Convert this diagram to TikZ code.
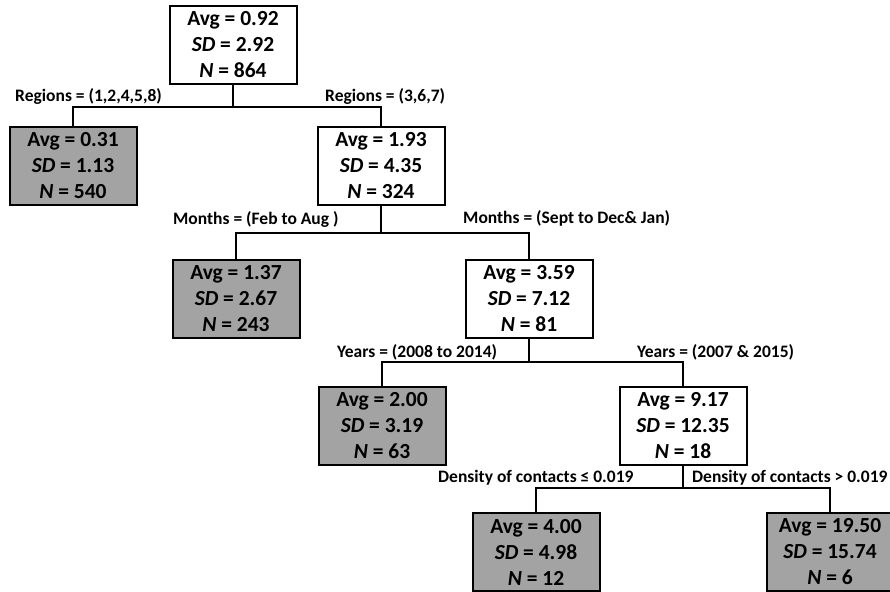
\documentclass[tikz,border=0pt]{standalone}
\usepackage{fontspec}
\setmainfont{Carlito}
\begin{document}
\begin{tikzpicture}[x=1pt,y=-1pt,
  box/.style={draw=black, line width=2pt, minimum width=127pt, minimum height=78pt,
    inner sep=0pt, align=center, font=\fontsize{21.5}{26}\selectfont\bfseries},
  leaf/.style={box, fill=gray!72},
  inner/.style={box, fill=white},
  lab/.style={anchor=west, inner sep=0pt, font=\fontsize{17.5}{20}\selectfont\bfseries},
  conn/.style={draw=black, line width=2pt}]
\useasboundingbox (0,0) rectangle (890,591);
\fill[white] (0,0) rectangle (890,591);
% nodes
\node[inner] (root) at (233,45) {Avg = 0.92\\\textit{SD} = 2.92\\\textit{N} = 864};
\node[leaf]  (a)    at (73,166) {Avg = 0.31\\\textit{SD} = 1.13\\\textit{N} = 540};
\node[inner] (b)    at (381,166) {Avg = 1.93\\\textit{SD} = 4.35\\\textit{N} = 324};
\node[leaf]  (c)    at (236,299) {Avg = 1.37\\\textit{SD} = 2.67\\\textit{N} = 243};
\node[inner] (d)    at (529,299) {Avg = 3.59\\\textit{SD} = 7.12\\\textit{N} = 81};
\node[leaf]  (e)    at (382,425.5) {Avg = 2.00\\\textit{SD} = 3.19\\\textit{N} = 63};
\node[inner] (f)    at (683,425.5) {Avg = 9.17\\\textit{SD} = 12.35\\\textit{N} = 18};
\node[leaf]  (g)    at (536,552) {Avg = 4.00\\\textit{SD} = 4.98\\\textit{N} = 12};
\node[leaf]  (h)    at (830,552) {Avg = 19.50\\\textit{SD} = 15.74\\\textit{N} = 6};
% branch points
\coordinate (b1) at (233,107);
\coordinate (b2) at (381,233);
\coordinate (b3) at (529,362);
\coordinate (b4) at (683,488);
% connectors
\draw[conn] (root.south) -- (b1) -| (a.north);
\draw[conn] (b1) -| (b.north);
\draw[conn] (b.south) -- (b2) -| (c.north);
\draw[conn] (b2) -| (d.north);
\draw[conn] (d.south) -- (b3) -| (e.north);
\draw[conn] (b3) -| (f.north);
\draw[conn] (f.south) -- (b4) -| (g.north);
\draw[conn] (b4) -| (h.north);
% labels
\node[lab] (l1) at (15,96) {Regions = (1,2,4,5,8)};
\node[lab] (r1) at (325,96) {Regions = (3,6,7)};
\node[lab] (l2) at (173,219) {Months = (Feb to Aug )};
\node[lab] (r2) at (463,218) {Months = (Sept to Dec\& Jan)};
\node[lab] (l3) at (337,352) {Years = (2008 to 2014)};
\node[lab] (r3) at (637,352) {Years = (2007 \& 2015)};
\node[lab] (l4) at (438,478) {Density of contacts ≤ 0.019};
\node[lab] (r4) at (692,478) {Density of contacts > 0.019};
\end{tikzpicture}
\end{document}
